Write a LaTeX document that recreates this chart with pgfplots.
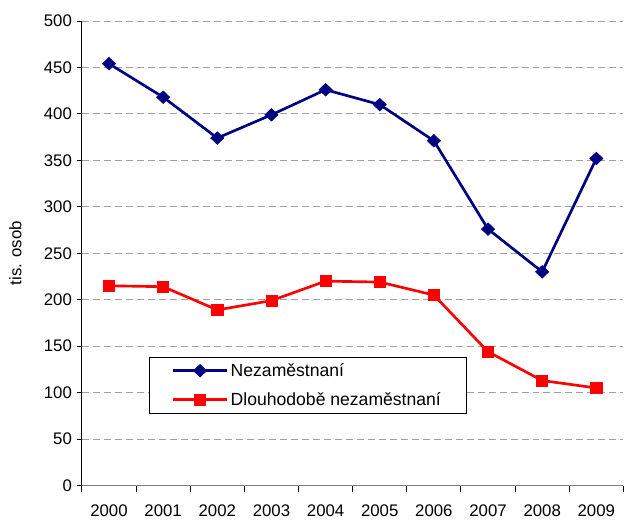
\documentclass[border=0pt]{standalone}
\usepackage{pgfplots}
\pgfplotsset{compat=1.18}
\usepackage{fontspec}
\setmainfont{Liberation Sans}
\definecolor{navyline}{RGB}{0,0,128}
\definecolor{redline}{RGB}{255,0,0}
\definecolor{gridgray}{RGB}{160,160,160}
\definecolor{axisgray}{RGB}{128,128,128}

\pgfplotstableread{
x year nez dlouho
0 2000 454 215
1 2001 418 214
2 2002 374 189
3 2003 399 199
4 2004 426 220
5 2005 410 219
6 2006 371 205
7 2007 276 144
8 2008 230 113
9 2009 352 105
}\data

\begin{document}
\begin{tikzpicture}
\begin{axis}[
  scale only axis,
  width=406.5pt, height=348.75pt,
  font=\fontsize{12.6}{14}\selectfont,
  /pgf/number format/assume math mode=true,
  xmin=-0.5, xmax=9.5, ymin=0, ymax=500,
  axis x line*=bottom, axis y line*=left,
  axis line style={-},
  x axis line style={axisgray, line width=0.9pt},
  y axis line style={black, line width=0.8pt},
  xtick={0,...,9},
  xticklabels={2000,2001,2002,2003,2004,2005,2006,2007,2008,2009},
  major x tick style={draw=none},
  minor xtick={-0.5,0.5,...,9.5},
  minor x tick style={black, line width=0.7pt},
  minor tick length=4.5pt,
  ytick={0,50,...,500},
  major y tick style={black, line width=0.7pt},
  major tick length=4pt,
  tick align=outside,
  ymajorgrids,
  grid style={gridgray, dash pattern=on 5.25pt off 3pt, line width=0.6pt},
  xticklabel style={yshift=-7pt},
  ylabel={tis. osob},
  ylabel style={yshift=10pt},
  legend style={at={(0.124,0.277)}, anchor=north west, draw=black,
    line width=0.6pt, fill=white, font=\fontsize{13.2}{14}\selectfont,
    inner xsep=17pt, inner ysep=2.5pt, row sep=6.5pt,
    nodes={inner sep=2pt}},
  legend cell align=left,
  legend image code/.code={\draw[mark repeat=2,mark phase=2]
    plot coordinates {(0pt,0pt) (20pt,0pt) (40pt,0pt)};},
]
\addplot[navyline, line width=2pt, mark=diamond*, mark size=4.7pt,
  mark options={xscale=1.4, line width=0.5pt}] table[x=x, y=nez] {\data};
\addlegendentry{Nezaměstnaní}
\addplot[redline, line width=2pt, mark=square*, mark size=4.2pt,
  mark options={line width=0.5pt}] table[x=x, y=dlouho] {\data};
\addlegendentry{Dlouhodobě nezaměstnaní}
\end{axis}
\path (current axis.south west) ++(-61.5pt,-23.25pt) coordinate (bl);
\path (current axis.north east) ++(0pt,15.75pt) coordinate (tr);
\path[use as bounding box] (bl) rectangle (tr);
\end{tikzpicture}
\end{document}
